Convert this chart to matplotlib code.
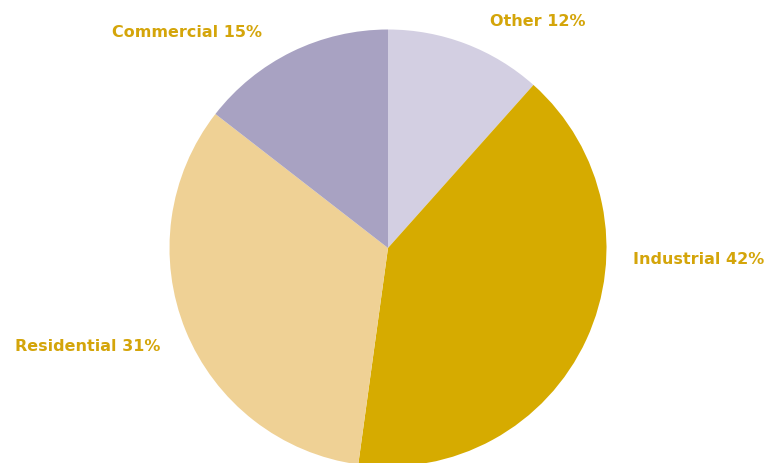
import matplotlib
matplotlib.use("Agg")
import matplotlib.pyplot as plt

categories = ["Other", "Industrial", "Residential", "Commercial"]
values = [12, 42, 34.5, 15]
label_texts = ["Other 12%", "Industrial 42%", "Residential 31%", "Commercial 15%"]
colors = ["#D3CFE2", "#D6AB00", "#EFD195", "#A8A2C2"]

W, H = 775, 464
fig = plt.figure(figsize=(W / 100, H / 100), dpi=100)
ax = fig.add_axes([0, 0, 1, 1])

ax.pie(values, colors=colors, startangle=90, counterclock=False,
       center=(388, H - 249), radius=218.5,
       wedgeprops=dict(linewidth=0, edgecolor="none"), frame=True)
ax.set_xlim(0, W)
ax.set_ylim(0, H)
ax.axis("off")

# label anchor positions (left x, baseline y) in pixels from top-left
label_pos = [(490, 25.5), (633, 264), (15, 351), (112, 37)]
for txt, (x, y) in zip(label_texts, label_pos):
    ax.text(x, H - y, txt, ha="left", va="baseline", fontsize=11.5,
            fontweight="bold", color="#D4A50A", family="DejaVu Sans")

fig.savefig("out.png", dpi=100)
